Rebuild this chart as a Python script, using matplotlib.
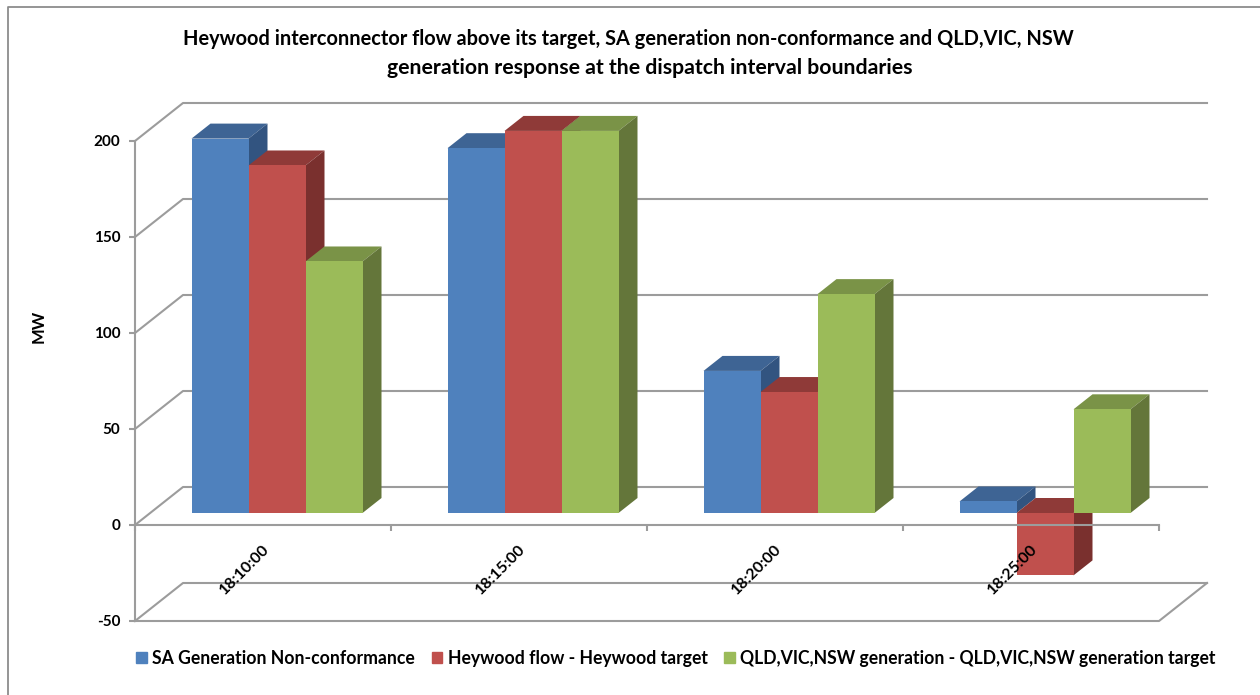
import numpy as np
import matplotlib
matplotlib.use('Agg')
import matplotlib.pyplot as plt
from matplotlib.lines import Line2D
from matplotlib.patches import Polygon

plt.rcParams['font.family'] = ['Lato', 'DejaVu Sans']
plt.rcParams['axes.unicode_minus'] = False

categories = ['18:10:00', '18:15:00', '18:20:00', '18:25:00']
sa_nonconf = [195, 190, 74, 6]
heywood = [181, 199, 63, -32.5]
qld_vic_nsw = [131, 199, 114, 54]
series_names = ['SA Generation Non-conformance', 'Heywood flow - Heywood target',
                'QLD,VIC,NSW generation - QLD,VIC,NSW generation target']
yticks = [-50, 0, 50, 100, 150, 200]

front = ['#4F81BD', '#C0504D', '#9BBB59']
top = ['#3E6494', '#8F3A38', '#7A9347']
side = ['#325480', '#7A302E', '#64763A']
grid = '#9C9C9C'

W, H = 1260, 695
fig = plt.figure(figsize=(W/100, H/100), dpi=100)
# front plane of the fake 3d box: x 135..1159 px, y 141..621 px
ax = fig.add_axes([135/W, 1-621/H, 1024/W, 480/H])
ax.set_xlim(0, 4)
ax.set_ylim(-50, 200)

# depth of the box and of the bars, in data units
dx = 48/256
dy = 38/1.92
bw = 57/256
bar_dx = 19/256
bar_dy = 15/1.92
off_x = 14/256
off_y = 12/1.92

# walls and floor
for v in yticks:
    ax.plot([0, dx, 4+dx], [v, v+dy, v+dy], color=grid, lw=1.5, clip_on=False, zorder=1)
ax.plot([0, 4, 4+dx], [-50, -50, -50+dy], color=grid, lw=1.5, clip_on=False, zorder=1)

handles = [plt.Rectangle((0, 0), 1, 1, color=c) for c in front]
z = 3
for c in range(len(categories)):
    for i, vals in enumerate([sa_nonconf, heywood, qld_vic_nsw]):
        v = vals[c]
        x0 = c + 0.5 - 1.5*bw + i*bw + off_x
        x1 = x0 + bw
        y_lo = off_y + min(v, 0)
        y_hi = off_y + max(v, 0)
        ax.add_patch(Polygon([(x0, y_hi), (x1, y_hi), (x1+bar_dx, y_hi+bar_dy), (x0+bar_dx, y_hi+bar_dy)],
                             closed=True, fc=top[i], ec='none', clip_on=False, zorder=z))
        ax.add_patch(Polygon([(x1, y_lo), (x1+bar_dx, y_lo+bar_dy), (x1+bar_dx, y_hi+bar_dy), (x1, y_hi)],
                             closed=True, fc=side[i], ec='none', clip_on=False, zorder=z))
        ax.bar(x0, v, bw, bottom=off_y, align='edge', color=front[i], clip_on=False, zorder=z+0.5)
        z += 1

for s in ['top', 'right']:
    ax.spines[s].set_visible(False)
ax.spines['left'].set_color(grid)
ax.spines['left'].set_linewidth(1.5)
ax.spines['bottom'].set_position(('data', 0))
ax.spines['bottom'].set_color(grid)
ax.spines['bottom'].set_linewidth(1.5)
ax.spines['bottom'].set_zorder(50)
ax.spines['left'].set_zorder(50)

ax.set_yticks(yticks)
ax.set_xticks(range(5))
ax.set_xticklabels([])
ax.tick_params(axis='x', length=4, width=1.5, color=grid, direction='out')
ax.tick_params(axis='y', length=4, width=1.5, color=grid, pad=6.5, labelsize=11)
for t in ax.get_yticklabels():
    t.set_fontweight('bold')

for c, name in enumerate(categories):
    ax.annotate(name, xy=(c+0.5, 0), xytext=(-18, -45), textcoords='offset pixels',
                rotation=45, ha='center', va='center', fontsize=11.5, fontweight='bold',
                color='black', zorder=60, annotation_clip=False)

fig.text(39/W, 1-326/H, 'MW', rotation=90, ha='center', va='center', fontsize=12, fontweight='bold')
fig.text(628.5/W, 1-39/H, 'Heywood interconnector flow above its target, SA generation non-conformance and QLD,VIC, NSW',
         ha='center', va='center', fontsize=14.4, fontweight='bold')
fig.text(649.5/W, 1-68/H, 'generation response at the dispatch interval boundaries',
         ha='center', va='center', fontsize=15.3, fontweight='bold')

fig.legend(handles, series_names, ncol=3, loc='center', bbox_to_anchor=(676/W, 1-658.5/H),
           frameon=False, prop={'weight': 'bold', 'size': 12.7},
           handlelength=0.6, handleheight=0.6, handletextpad=0.3, columnspacing=0.95,
           borderpad=0, borderaxespad=0)

# frame of the cropped chart area, only left and top are in the picture
fig.add_artist(Line2D([7.5/W, 7.5/W, 1], [0, 1-6.5/H, 1-6.5/H], color='#8C8C8C', lw=1.3))

fig.savefig('out.png', dpi=100)
